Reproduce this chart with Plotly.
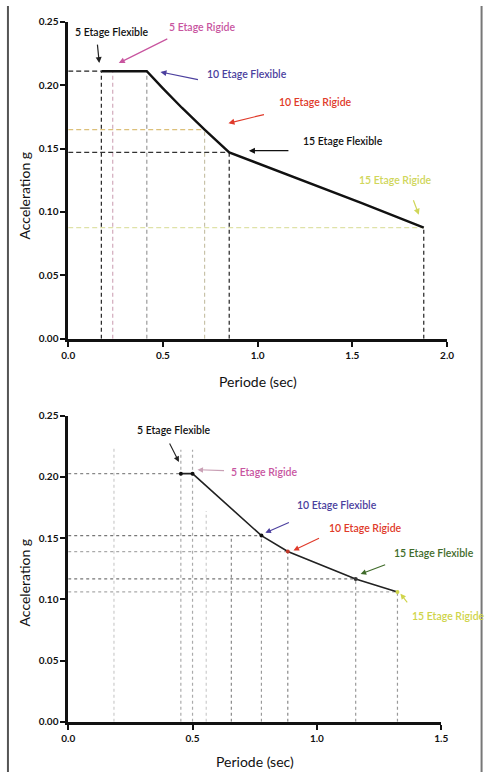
import plotly.graph_objects as go

# ---------------- data ----------------
labels = ["5 Etage Flexible", "5 Etage Rigide", "10 Etage Flexible",
          "10 Etage Rigide", "15 Etage Flexible", "15 Etage Rigide"]

# top chart: spectrum curve and building points
top_curve_T = [0.175, 0.415, 0.5, 0.6, 0.72, 0.85, 1.55, 1.877]
top_curve_Sa = [0.211, 0.211, 0.1975, 0.1822, 0.165, 0.147, 0.107, 0.0877]
top_T = [0.175, 0.235, 0.415, 0.72, 0.85, 1.877]
top_Sa = [0.211, 0.211, 0.211, 0.165, 0.147, 0.0877]
top_x_ticks = [0.0, 0.5, 1.0, 1.5, 2.0]

# bottom chart
bot_curve_T = [0.453, 0.50, 0.777, 0.883, 1.156, 1.324]
bot_curve_Sa = [0.2026, 0.2026, 0.152, 0.139, 0.1166, 0.106]
bot_T = [0.453, 0.50, 0.777, 0.883, 1.156, 1.324]
bot_Sa = [0.2026, 0.2026, 0.152, 0.139, 0.1166, 0.106]
bot_vline_top = [0.222, 0.222, 0.152, 0.139, 0.1166, 0.106]
bot_extra_T = [0.184, 0.555, 0.656]
bot_extra_top = [0.223, 0.172, 0.152]
bot_x_ticks = [0.0, 0.5, 1.0, 1.5]
y_ticks = [0.0, 0.05, 0.10, 0.15, 0.20, 0.25]

# ---------------- styles ----------------
FONT = "Lato"
W, H = 490, 778
TOP_XDOM = [63 / W, 453 / W]
TOP_YDOM = [1 - 338 / H, 1 - 16 / H]
BOT_XDOM = [63 / W, 447 / W]
BOT_YDOM = [1 - 727 / H, 1 - 416 / H]
TOP_XR, BOT_XR, YR = [0, 2], [0, 1.5], [0, 0.25]

label_colors_top = ["#111111", "#c8559f", "#4b3f9e", "#e03a2a", "#111111", "#d0d65a"]
label_colors_bot = ["#111111", "#c8559f", "#4b3f9e", "#e03a2a", "#3f6b2a", "#cfd44a"]
top_vcol = ["#222222", "#d2aabb", "#9a9a9a", "#c8c2a8", "#222222", "#222222"]
top_hcol = ["#222222", None, None, "#dcc07a", "#333333", "#dfe2a8"]
bot_vcol = ["#aaaaaa", "#aaaaaa", "#999999", "#888888", "#999999", "#999999"]
bot_hcol = ["#888888", None, "#777777", "#aaaaaa", "#777777", "#aaaaaa"]
bot_extra_col = ["#cccccc", "#cccccc", "#888888"]
bot_mcol = ["#111111", "#111111", "#111111", "#c0392b", "#333333", "#cfd44a"]

# text centres (data coords) and arrow heads/offsets
top_text_T = [0.231, 0.708, 0.944, 1.308, 1.451, 1.728]
top_text_Sa = [0.2422, 0.2461, 0.2088, 0.1871, 0.1561, 0.1250]
top_head_T = [0.164, 0.267, 0.487, 0.846, 0.954, 1.851]
top_head_Sa = [0.2174, 0.2174, 0.2104, 0.1700, 0.1483, 0.0978]
top_ax = [-2, 50, 39, 37, 41, -6]
top_ay = [-20, -25, 8, -9, 0, -16]

bot_text_T = [0.426, 0.789, 1.082, 1.195, 1.469, 1.530]
bot_text_Sa = [0.2379, 0.2042, 0.1768, 0.1584, 0.1375, 0.0860]
bot_head_T = [0.445, 0.520, 0.793, 0.906, 1.176, 1.336]
bot_head_Sa = [0.2122, 0.2058, 0.1543, 0.1399, 0.1206, 0.1045]
bot_ax = [-10, 28, 25, 27, 26, 8]
bot_ay = [-20, 1, -11, -13, -10, 10]
bot_arrow_col = ["#222222", "#c9a0b5", "#4b3f9e", "#e03a2a", "#3f6b2a", "#cfd44a"]


def to_paper(v, rng, dom):
    return dom[0] + (v - rng[0]) / (rng[1] - rng[0]) * (dom[1] - dom[0])


fig = go.Figure()

# ---- top chart guides ----
for i in range(len(top_T)):
    fig.add_trace(go.Scatter(x=[top_T[i], top_T[i]], y=[0, top_Sa[i]], mode="lines",
                             line=dict(color=top_vcol[i], width=1.2, dash="4px,3px"),
                             xaxis="x", yaxis="y", hoverinfo="skip"))
    if top_hcol[i]:
        fig.add_trace(go.Scatter(x=[0, top_T[i]], y=[top_Sa[i], top_Sa[i]], mode="lines",
                                 line=dict(color=top_hcol[i], width=1.2, dash="5px,3px"),
                                 xaxis="x", yaxis="y", hoverinfo="skip"))
fig.add_trace(go.Scatter(x=top_curve_T, y=top_curve_Sa, mode="lines",
                         line=dict(color="#111111", width=2.4),
                         xaxis="x", yaxis="y", hoverinfo="skip"))

# ---- bottom chart guides ----
for i in range(len(bot_extra_T)):
    fig.add_trace(go.Scatter(x=[bot_extra_T[i], bot_extra_T[i]], y=[0, bot_extra_top[i]],
                             mode="lines", line=dict(color=bot_extra_col[i], width=1.2, dash="dot"),
                             xaxis="x2", yaxis="y2", hoverinfo="skip"))
for i in range(len(bot_T)):
    fig.add_trace(go.Scatter(x=[bot_T[i], bot_T[i]], y=[0, bot_vline_top[i]], mode="lines",
                             line=dict(color=bot_vcol[i], width=1.2, dash="dot"),
                             xaxis="x2", yaxis="y2", hoverinfo="skip"))
    if bot_hcol[i]:
        fig.add_trace(go.Scatter(x=[0, bot_T[i]], y=[bot_Sa[i], bot_Sa[i]], mode="lines",
                                 line=dict(color=bot_hcol[i], width=1.3, dash="dot"),
                                 xaxis="x2", yaxis="y2", hoverinfo="skip"))
fig.add_trace(go.Scatter(x=bot_curve_T, y=bot_curve_Sa, mode="lines",
                         line=dict(color="#222222", width=1.6),
                         xaxis="x2", yaxis="y2", hoverinfo="skip"))
fig.add_trace(go.Scatter(x=bot_T, y=bot_Sa, mode="markers",
                         marker=dict(color=bot_mcol, size=4),
                         xaxis="x2", yaxis="y2", hoverinfo="skip"))

annotations = []
for i, lab in enumerate(labels):
    annotations.append(dict(x=to_paper(top_text_T[i], TOP_XR, TOP_XDOM),
                            y=to_paper(top_text_Sa[i], YR, TOP_YDOM),
                            xref="paper", yref="paper", xanchor="center", yanchor="middle",
                            text=lab, showarrow=False,
                            font=dict(family=FONT, size=10.5, color=label_colors_top[i], weight=600)))
    annotations.append(dict(x=top_head_T[i], y=top_head_Sa[i], xref="x", yref="y",
                            text="", showarrow=True, ax=top_ax[i], ay=top_ay[i],
                            arrowhead=2, arrowsize=1, arrowwidth=1.2,
                            arrowcolor=label_colors_top[i] if i != 0 else "#222222"))
    annotations.append(dict(x=to_paper(bot_text_T[i], BOT_XR, BOT_XDOM),
                            y=to_paper(bot_text_Sa[i], YR, BOT_YDOM),
                            xref="paper", yref="paper", xanchor="center", yanchor="middle",
                            text=lab, showarrow=False,
                            font=dict(family=FONT, size=10.5, color=label_colors_bot[i], weight=600)))
    annotations.append(dict(x=bot_head_T[i], y=bot_head_Sa[i], xref="x2", yref="y2",
                            text="", showarrow=True, ax=bot_ax[i], ay=bot_ay[i],
                            arrowhead=2, arrowsize=1, arrowwidth=1.1,
                            arrowcolor=bot_arrow_col[i]))

# axis titles
title_font = dict(family=FONT, size=14, color="#111111")
annotations += [
    dict(x=258 / W, y=1 - 381 / H, xref="paper", yref="paper", text="Periode (sec)",
         xanchor="center", yanchor="middle", showarrow=False, font=title_font),
    dict(x=18 / W, y=1 - 192 / H, xref="paper", yref="paper", text="Acceleration g",
         xanchor="center", yanchor="middle", showarrow=False, textangle=-90, font=title_font),
    dict(x=255 / W, y=1 - 767 / H, xref="paper", yref="paper", text="Periode (sec)",
         xanchor="center", yanchor="middle", showarrow=False, font=title_font),
    dict(x=18 / W, y=1 - 585 / H, xref="paper", yref="paper", text="Acceleration g",
         xanchor="center", yanchor="middle", showarrow=False, textangle=-90, font=title_font),
]

tickfont = dict(family=FONT, size=10, color="#111111", weight=700)
axis_common = dict(showline=True, linewidth=2.5, linecolor="#111111", ticks="outside",
                   ticklen=5, tickwidth=2, tickcolor="#111111", showgrid=False,
                   zeroline=False, tickfont=tickfont, fixedrange=True)

fig.update_layout(
    width=W, height=H, margin=dict(l=0, r=0, t=0, b=0),
    paper_bgcolor="white", plot_bgcolor="white", showlegend=False,
    xaxis=dict(domain=TOP_XDOM, range=TOP_XR, tickvals=top_x_ticks,
               tickformat=".1f", anchor="y", **axis_common),
    yaxis=dict(domain=TOP_YDOM, range=YR, tickvals=y_ticks,
               tickformat=".2f", anchor="x", **axis_common),
    xaxis2=dict(domain=BOT_XDOM, range=BOT_XR, tickvals=bot_x_ticks,
                tickformat=".1f", anchor="y2", **axis_common),
    yaxis2=dict(domain=BOT_YDOM, range=YR, tickvals=y_ticks,
                tickformat=".2f", anchor="x2", **axis_common),
    annotations=annotations,
    shapes=[
        dict(type="line", xref="paper", yref="paper", x0=0.002, x1=0.002, y0=0, y1=1,
             line=dict(color="#555555", width=2)),
        dict(type="line", xref="paper", yref="paper", x0=0.997, x1=0.997, y0=0, y1=1,
             line=dict(color="#777777", width=2)),
    ],
)

fig.write_html("out.html")
